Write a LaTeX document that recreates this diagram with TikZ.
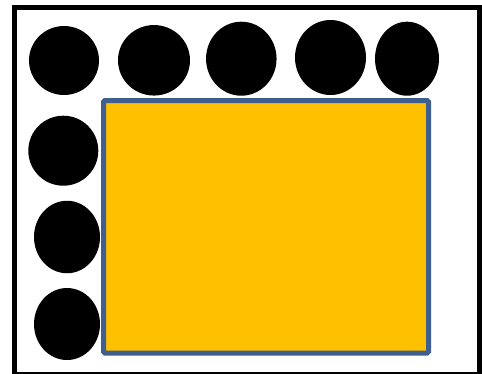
\documentclass[tikz,border=0pt]{standalone}
\usetikzlibrary{shapes.geometric}
\definecolor{boxfill}{HTML}{FFC000}
\definecolor{boxline}{HTML}{3F5F8F}
\tikzset{
  dot/.style={ellipse, fill=black, draw=none, inner sep=0pt},
  panel/.style={rectangle, fill=boxfill, draw=boxline, line width=5pt, rounded corners=1.5pt, inner sep=0pt}
}
\begin{document}
\begin{tikzpicture}[x=1pt,y=-1pt]
\useasboundingbox (0,0) rectangle (482,373);
\clip (0,0) rectangle (482,373);
\fill[white] (0,0) rectangle (482,373);
\draw[line width=5pt] (14.5,7.5) rectangle (479.5,374.5);
% top row
\node[dot, minimum width=70pt, minimum height=69pt] (t1) at (64,60.5) {};
\node[dot, minimum width=72pt, minimum height=70.5pt] (t2) at (154,60.3) {};
\node[dot, minimum width=70.5pt, minimum height=74pt] (t3) at (241.3,58.7) {};
\node[dot, minimum width=71pt, minimum height=75pt] (t4) at (330.5,57.5) {};
\node[dot, minimum width=64pt, minimum height=74pt] (t5) at (407,58.7) {};
% left column
\node[dot, minimum width=70pt, minimum height=70pt] (l1) at (63.3,150.7) {};
\node[dot, minimum width=66pt, minimum height=72.5pt] (l2) at (67,237) {};
\node[dot, minimum width=66pt, minimum height=72pt] (l3) at (67,324) {};
% panel
\node[panel, minimum width=325pt, minimum height=252.5pt] (box) at (266,226.75) {};
\end{tikzpicture}
\end{document}
